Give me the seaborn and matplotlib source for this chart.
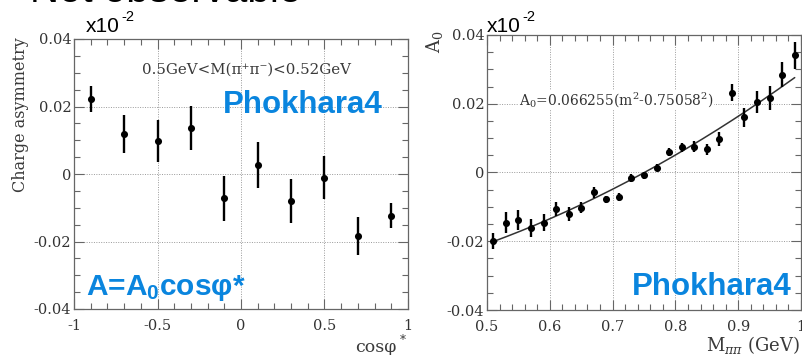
import numpy as np
import pandas as pd
import matplotlib
matplotlib.use("Agg")
import matplotlib.pyplot as plt
import seaborn as sns
from matplotlib.ticker import MultipleLocator, FixedFormatter, FixedLocator

# ---------------- data ----------------
cos_phi = [-0.9, -0.7, -0.5, -0.3, -0.1, 0.1, 0.3, 0.5, 0.7, 0.9]
asym = [0.0222, 0.0119, 0.0097, 0.0136, -0.0072, 0.0026, -0.0080, -0.0011, -0.0183, -0.0124]
asym_err = [0.0038, 0.0056, 0.0062, 0.0065, 0.0066, 0.0068, 0.0064, 0.0063, 0.0056, 0.0037]

m_pipi = [0.51, 0.53, 0.55, 0.57, 0.59, 0.61, 0.63, 0.65, 0.67, 0.69, 0.71, 0.73, 0.75,
          0.77, 0.79, 0.81, 0.83, 0.85, 0.87, 0.89, 0.91, 0.93, 0.95, 0.97, 0.99]
a0 = [-0.0199, -0.0146, -0.0137, -0.0162, -0.0146, -0.0107, -0.0120, -0.0102, -0.0057,
      -0.0078, -0.0072, -0.0016, -0.0008, 0.0014, 0.0060, 0.0073, 0.0075, 0.0068, 0.0098,
      0.0232, 0.0160, 0.0205, 0.0217, 0.0284, 0.0341]
a0_err = [0.0024, 0.0031, 0.0029, 0.0026, 0.0025, 0.0021, 0.0020, 0.0016, 0.0016, 0.0011,
          0.0012, 0.0011, 0.0010, 0.0010, 0.0012, 0.0013, 0.0016, 0.0016, 0.0021, 0.0024,
          0.0029, 0.0031, 0.0035, 0.0036, 0.0039]

fit_coef = 0.066255
fit_m0 = 0.75058
fit_range = [0.51, 0.99]

left_xticks = [-1, -0.5, 0, 0.5, 1]
left_xlabels = ["-1", "-0.5", "0", "0.5", "1"]
yticks = [-0.04, -0.02, 0, 0.02, 0.04]
ylabels = ["-0.04", "-0.02", "0", "0.02", "0.04"]
right_xticks = [0.5, 0.6, 0.7, 0.8, 0.9, 1.0]
right_xlabels = ["0.5", "0.6", "0.7", "0.8", "0.9", "1"]

# ---------------- style ----------------
sns.set_style("ticks")
plt.rcParams["mathtext.fontset"] = "custom"
plt.rcParams["mathtext.rm"] = "Liberation Sans"
plt.rcParams["mathtext.bf"] = "Liberation Sans:bold"
plt.rcParams["mathtext.it"] = "Liberation Sans:italic"
plt.rcParams["font.family"] = ["DejaVu Serif"]

BLUE = "#0a85de"
GREY = "#3a3a3a"
SERIF = ["DejaVu Serif"]
SANS = ["Liberation Sans", "DejaVu Sans"]

W, H = 802, 355
fig = plt.figure(figsize=(W / 100, H / 100), dpi=100)

def fx(px):
    return px / W

def fy(py):
    return 1 - py / H

axL = fig.add_axes([fx(74), fy(309), fx(408 - 74), (309 - 39) / H])
axR = fig.add_axes([fx(487), fy(310), fx(801 - 487), (310 - 35) / H])

def style_axes(ax, xmin, xticks, xlabels):
    for s in ax.spines.values():
        s.set_color("#666666")
        s.set_linewidth(0.9)
    ax.set_ylim(-0.04, 0.04)
    ax.yaxis.set_major_locator(FixedLocator(yticks))
    ax.yaxis.set_major_formatter(FixedFormatter(ylabels))
    ax.yaxis.set_minor_locator(MultipleLocator(0.005))
    ax.xaxis.set_major_locator(FixedLocator(xticks))
    ax.xaxis.set_major_formatter(FixedFormatter(xlabels))
    ax.xaxis.set_minor_locator(MultipleLocator(xmin))
    ax.tick_params(which="both", direction="in", top=True, right=True,
                   color="#666666", width=0.8)
    ax.tick_params(which="major", length=7, labelsize=10.5, labelcolor="#333333")
    ax.tick_params(which="minor", length=4)
    ax.tick_params(axis="x", which="major", pad=7)
    ax.tick_params(axis="y", which="major", pad=2)
    for lab in ax.get_xticklabels() + ax.get_yticklabels():
        lab.set_family(SERIF)
    ax.grid(True, which="major", linestyle=(0, (1, 1.5)), color="#9a9a9a", linewidth=0.7)
    ax.set_xlabel("")
    ax.set_ylabel("")

# ---------------- left panel ----------------
dfL = pd.DataFrame({"cos": cos_phi, "A": asym, "err": asym_err})
axL.errorbar(dfL["cos"], dfL["A"], yerr=dfL["err"], fmt="none", ecolor="black",
             elinewidth=1.7, capsize=0, zorder=3)
sns.scatterplot(data=dfL, x="cos", y="A", ax=axL, color="black", s=26,
                edgecolor="black", linewidth=0, zorder=4)
axL.set_xlim(-1, 1)
style_axes(axL, 0.1, left_xticks, left_xlabels)

axL.text(-0.16, 1.005, "Charge asymmetry", rotation=90, ha="center", va="top",
         transform=axL.transAxes, fontsize=11.5, color=GREY, family=SERIF)
axL.text(0.03, 0.031, "0.5GeV<M(π⁺π⁻)<0.52GeV", ha="center", va="center",
         fontsize=10.8, color=GREY, family=SERIF)

# ---------------- right panel ----------------
dfR = pd.DataFrame({"m": m_pipi, "A0": a0, "err": a0_err})
axR.errorbar(dfR["m"], dfR["A0"], yerr=dfR["err"], fmt="none", ecolor="black",
             elinewidth=1.7, capsize=0, zorder=3)
sns.scatterplot(data=dfR, x="m", y="A0", ax=axR, color="black", s=26,
                edgecolor="black", linewidth=0, zorder=4)
mm = np.linspace(fit_range[0], fit_range[1], 200)
dfFit = pd.DataFrame({"m": mm, "fit": fit_coef * (mm ** 2 - fit_m0 ** 2)})
sns.lineplot(data=dfFit, x="m", y="fit", ax=axR, color="#333333", linewidth=1.1, zorder=2)
axR.set_xlim(0.5, 1.0)
style_axes(axR, 0.02, right_xticks, right_xlabels)

axR.text(-0.166, 1.018, r"A$_0$", rotation=90, ha="center", va="top",
         transform=axR.transAxes, fontsize=13, color=GREY, family=SERIF,
         math_fontfamily="dejavuserif")
axR.text(0.7056, 0.0211, r"A$_0$=0.066255(m$^2$-0.75058$^2$)", ha="center", va="center",
         fontsize=10, color="#333333", family=SERIF, math_fontfamily="dejavuserif",
         bbox=dict(facecolor="white", edgecolor="none", pad=0.5))

# ---------------- figure texts ----------------
fig.text(fx(30), fy(2.5), "Not observable", fontsize=29, family=SANS, va="baseline",
         color="black")
for xp in (86, 487):
    fig.text(fx(xp), fy(32), "x10", fontsize=15, family=SANS, va="baseline",
             color="black")
    fig.text(fx(xp + 35), fy(21), "-2", fontsize=10.5, family=SANS, va="baseline",
             color="black")

fig.text(fx(223), fy(113), "Phokhara4", fontsize=22.5, fontweight="bold", family=SANS,
         color=BLUE, va="baseline")
fig.text(fx(632), fy(295), "Phokhara4", fontsize=22.5, fontweight="bold", family=SANS,
         color=BLUE, va="baseline")
fig.text(fx(86), fy(295), r"A=A$\mathbf{_0}$cosφ*", fontsize=21.5, fontweight="bold",
         family=SANS, color=BLUE, va="baseline", math_fontfamily="custom")

fig.text(fx(397), fy(352), "cosφ", fontsize=12.5, family=SERIF, color=GREY,
         ha="right", va="baseline")
fig.text(fx(400), fy(340), "*", fontsize=8.5, family=SERIF, color=GREY,
         ha="left", va="center")
fig.text(fx(800), fy(351), r"M$_{\pi\pi}$ (GeV)", fontsize=13, family=SERIF, color=GREY,
         ha="right", va="baseline", math_fontfamily="dejavuserif")

fig.savefig("out.png", dpi=100)
